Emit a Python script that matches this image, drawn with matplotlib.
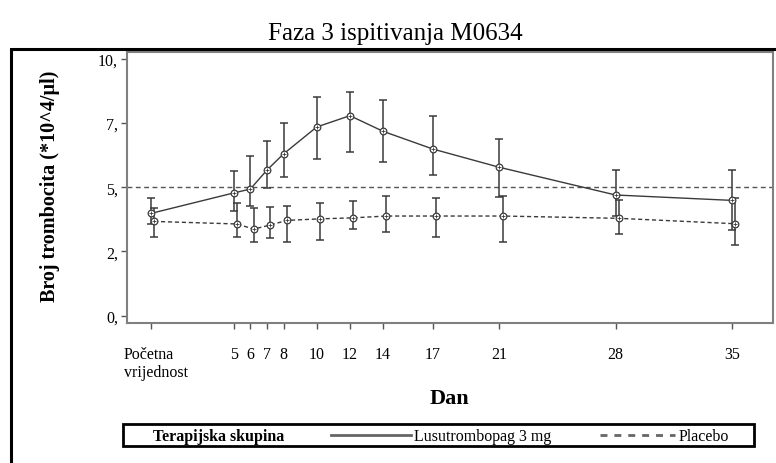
import matplotlib
matplotlib.use("Agg")
import matplotlib.pyplot as plt
from matplotlib.lines import Line2D
from matplotlib.patches import Rectangle
import matplotlib.transforms as mtransforms
import numpy as np

plt.rcParams['font.family'] = ['Liberation Serif', 'DejaVu Serif']

# ---- data ----
days = [0, 5, 6, 7, 8, 10, 12, 14, 17, 21, 28, 35]
day_labels = ['Početna\nvrijednost', '5', '6', '7', '8', '10', '12', '14', '17', '21', '28', '35']
lusu_mean = [3.98, 4.78, 4.93, 5.67, 6.30, 7.35, 7.79, 7.18, 6.49, 5.78, 4.70, 4.49]
lusu_low = [3.57, 4.09, 4.28, 4.97, 5.39, 6.10, 6.39, 6.00, 5.48, 4.61, 3.89, 3.35]
lusu_high = [4.58, 5.65, 6.21, 6.80, 7.49, 8.51, 8.73, 8.40, 7.79, 6.88, 5.67, 5.68]
plac_mean = [3.67, 3.57, 3.37, 3.53, 3.71, 3.77, 3.81, 3.88, 3.88, 3.88, 3.79, 3.58]
plac_low = [3.07, 3.07, 2.88, 3.03, 2.85, 2.94, 3.37, 3.27, 3.07, 2.88, 3.18, 2.76]
plac_high = [4.18, 4.39, 4.18, 4.22, 4.28, 4.39, 4.48, 4.67, 4.58, 4.67, 4.51, 4.58]
y_ticks = [0, 2.5, 5, 7.5, 10]
y_tick_labels = ['0,', '2,', '5,', '7,', '10,']
ref_level = 5

W, H = 776, 464
fig = plt.figure(figsize=(W / 100, H / 100), dpi=100)

def fx(px):
    return px / W

def fy(py):
    return 1 - py / H

ax = fig.add_axes([fx(127), fy(324.3), fx(772.7) - fx(127), fy(53.3) - fy(324.3)])

line_c = '#3a3a3a'
x_l = np.array(days, dtype=float)
x_p = x_l + 0.2

lm = np.array(lusu_mean); pm = np.array(plac_mean)
l_err = [lm - np.array(lusu_low), np.array(lusu_high) - lm]
p_err = [pm - np.array(plac_low), np.array(plac_high) - pm]

ax.axhline(ref_level, color='#555555', lw=1.0, ls=(0, (3.5, 2.5)), zorder=1)

ax.errorbar(x_l, lm, yerr=l_err, fmt='none', ecolor=line_c, elinewidth=1.1,
            capsize=3.2, capthick=1.1, zorder=2)
ax.errorbar(x_p, pm, yerr=p_err, fmt='none', ecolor=line_c, elinewidth=1.1,
            capsize=3.2, capthick=1.1, zorder=2)
ax.plot(x_l, lm, color=line_c, lw=1.0, ls='-', marker='o', ms=4.8,
        mfc='white', mec=line_c, mew=0.9, zorder=3)
ax.plot(x_p, pm, color=line_c, lw=1.0, ls=(0, (3, 2)), marker='o', ms=4.8,
        mfc='white', mec=line_c, mew=0.9, zorder=3)
ax.plot(x_l, lm, ls='none', marker='+', ms=3.0, mec=line_c, mew=0.6, zorder=4)
ax.plot(x_p, pm, ls='none', marker='+', ms=3.0, mec=line_c, mew=0.6, zorder=4)

ax.set_xlim(-1.43, 37.47)
ax.set_ylim(-0.30, 10.26)
ax.set_xticks(days)
ax.set_xticklabels(day_labels, fontsize=11.5)
ax.set_yticks(y_ticks)
ax.set_yticklabels(y_tick_labels, fontsize=11.5)
ax.tick_params(axis='x', length=4, width=1.0, color='#555555', pad=12)
ax.tick_params(axis='y', length=4.5, width=1.0, color='#555555', pad=2)
for s in ax.spines.values():
    s.set_color('#808080')
    s.set_linewidth(1.5)

first_tick = ax.xaxis.get_major_ticks()[0]
for t in ax.get_xticklabels():
    t.set_multialignment('left')
first_tick.label1.set_transform(first_tick.label1.get_transform() +
                                mtransforms.ScaledTranslation(5 / 100, 0, fig.dpi_scale_trans))

fig.text(fx(50), (fy(324.3) + fy(53.3)) / 2 + 0.005, 'Broj trombocita (*10^4/µl)',
         fontsize=14.5, fontweight='bold', rotation=90, ha='center', va='center')

fig.text(fx(449.5), fy(404), 'Dan', fontsize=16, fontweight='bold', ha='center', va='baseline')
fig.text(fx(395), fy(40), 'Faza 3 ispitivanja M0634', fontsize=18, ha='center', va='baseline')

# outer frame
fig.add_artist(Rectangle((fx(11), fy(470)), fx(790) - fx(11), fy(50) - fy(470),
                         transform=fig.transFigure, fill=False, ec='black', lw=2.2,
                         clip_on=False))

# legend box
fig.add_artist(Rectangle((fx(123), fy(447)), fx(754) - fx(123), fy(425) - fy(447),
                         transform=fig.transFigure, fill=False, ec='black', lw=2.0))
ly = fy(436)
fig.text(fx(153), fy(441.5), 'Terapijska skupina', fontsize=11.5, fontweight='bold',
         ha='left', va='baseline')
fig.add_artist(Line2D([fx(331), fx(411)], [ly, ly], transform=fig.transFigure,
                      color='#666666', lw=2.0))
fig.text(fx(414), fy(441.5), 'Lusutrombopag 3 mg', fontsize=11.5, ha='left', va='baseline')
fig.add_artist(Line2D([fx(600), fx(675)], [ly, ly], transform=fig.transFigure,
                      color='#666666', lw=2.0, ls=(0, (2.5, 2.5))))
fig.text(fx(679), fy(441.5), 'Placebo', fontsize=11.5, ha='left', va='baseline')

fig.savefig('out.png', dpi=100)
